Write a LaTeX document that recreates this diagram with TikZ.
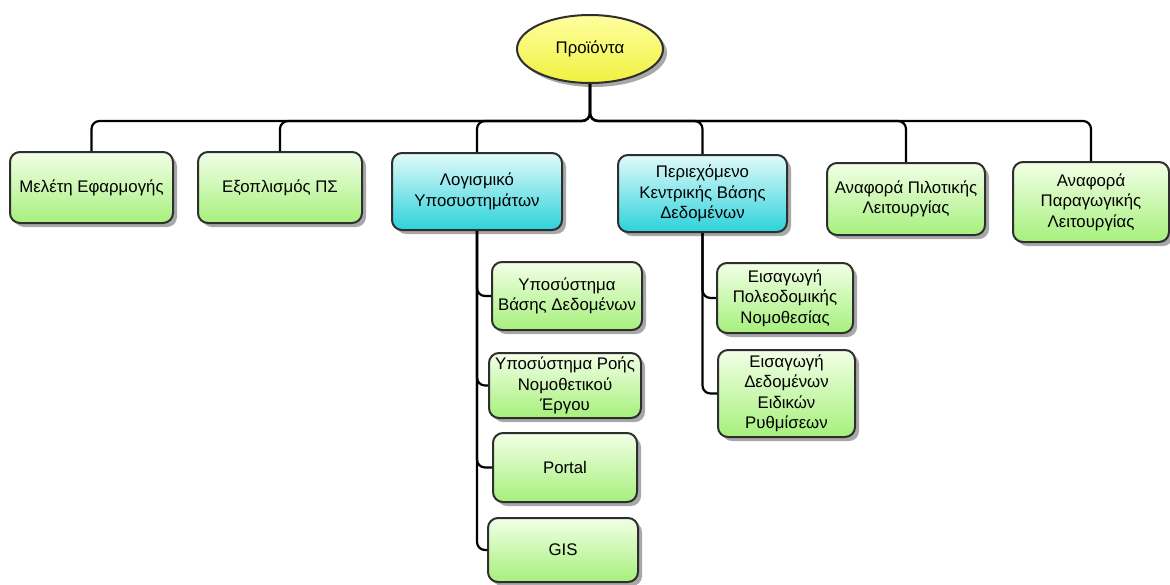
\documentclass[tikz,border=0pt]{standalone}
\usepackage{fontspec}
\setmainfont{Liberation Sans}
\usetikzlibrary{shapes.geometric,shadows}
\definecolor{greenTop}{HTML}{F2FFE6}
\definecolor{greenBot}{HTML}{A6F07C}
\definecolor{cyanTop}{HTML}{E2FAFA}
\definecolor{cyanBot}{HTML}{2CD2DA}
\definecolor{yelTop}{HTML}{FFFFA0}
\definecolor{yelBot}{HTML}{F0F040}
\definecolor{edge}{HTML}{2E2E2E}
\definecolor{shade}{HTML}{A8A8A8}
\begin{document}
\begin{tikzpicture}[x=1pt,y=-1pt,
  shadowed/.style={drop shadow={shadow xshift=4pt,shadow yshift=-4pt,fill=shade,opacity=1}},
  txt/.style={font=\fontsize{16.8}{20.5}\selectfont},
  box/.style={rectangle,rounded corners=10pt,draw=edge,line width=2pt,align=center,
    inner sep=1pt,txt,shadowed},
  leaf/.style={box,top color=greenTop,bottom color=greenBot},
  group/.style={box,top color=cyanTop,bottom color=cyanBot},
  conn/.style={line width=2.2pt,black,rounded corners=8pt}]
\useasboundingbox (0,0) rectangle (1170,584);
\fill[white] (0,0) rectangle (1170,584);

% root
\node[ellipse,draw=edge,line width=2pt,top color=yelTop,bottom color=yelBot,
  minimum width=146pt,minimum height=68pt,shadowed,txt] (root) at (590,49) {Προϊόντα};

% first level
\node[leaf,minimum width=163pt,minimum height=71pt] (m1) at (91.5,187.5) {Μελέτη Εφαρμογής};
\node[leaf,minimum width=164pt,minimum height=71pt] (m2) at (280,187.5) {Εξοπλισμός ΠΣ};
\node[group,minimum width=170pt,minimum height=77pt] (m3) at (477,191.5) {Λογισμικό\\Υποσυστημάτων};
\node[group,minimum width=169pt,minimum height=77pt] (m4) at (702.5,193.5) {Περιεχόμενο\\Κεντρικής Βάσης\\Δεδομένων};
\node[leaf,minimum width=158pt,minimum height=72pt] (m5) at (906,199) {Αναφορά Πιλοτικής\\Λειτουργίας};
\node[leaf,minimum width=156pt,minimum height=80pt] (m6) at (1091,202) {Αναφορά\\Παραγωγικής\\Λειτουργίας};

% software subsystems
\node[leaf,minimum width=150pt,minimum height=68pt] (a1) at (567,296) {Υποσύστημα\\Βάσης Δεδομένων};
\node[leaf,minimum width=152pt,minimum height=65pt] (a2) at (565,385.5) {Υποσύστημα Ροής\\Νομοθετικού\\Έργου};
\node[leaf,minimum width=144pt,minimum height=69pt] (a3) at (565,467.5) {Portal};
\node[leaf,minimum width=150pt,minimum height=64pt] (a4) at (563,550) {GIS};

% database content
\node[leaf,minimum width=136pt,minimum height=70pt] (b1) at (785,298) {Εισαγωγή\\Πολεοδομικής\\Νομοθεσίας};
\node[leaf,minimum width=137pt,minimum height=87pt] (b2) at (786.5,393.5) {Εισαγωγή\\Δεδομένων\\Ειδικών\\Ρυθμίσεων};

% connectors
\coordinate (bus) at (0,121);
\foreach \n in {m1,m2,m3,m4,m5,m6}
  \draw[conn] (root.south) |- (\n.north |- bus) -- (\n.north);
\foreach \n in {a1,a2,a3,a4}
  \draw[conn] (m3.south) |- (\n.west);
\foreach \n in {b1,b2}
  \draw[conn] (m4.south) |- (\n.west);
\end{tikzpicture}
\end{document}
